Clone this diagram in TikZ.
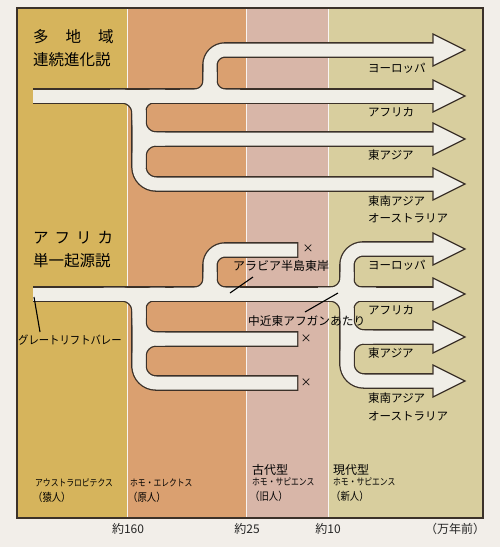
\documentclass[tikz,border=0pt]{standalone}
\usepackage{fontspec}
\usepackage{graphicx}
\setmainfont{Noto Sans CJK JP}
\definecolor{bg}{HTML}{F2EEE9}
\definecolor{colA}{HTML}{D6B45C}
\definecolor{colB}{HTML}{DAA070}
\definecolor{colC}{HTML}{D8B6A8}
\definecolor{colD}{HTML}{D8CE9E}
\definecolor{outl}{HTML}{3B3129}
\definecolor{bandw}{HTML}{F0EEE7}
\newcommand\myfs[1]{\fontsize{#1}{#1}\selectfont}
\newcommand\bandset[1]{%
 % upper diagram
 \path[#1] (33,96) -- (435,96);
 \path[#1, rounded corners=15pt] (180,96) -- (210,96) -- (210,50) -- (435,50);
 \path[#1, rounded corners=15pt] (240,96) -- (210,96) -- (210,72);
 \path[#1, rounded corners=17pt] (110,96) -- (139,96) -- (139,184) -- (435,184);
 \path[#1, rounded corners=14pt] (165,96) -- (139,96) -- (139,120);
 \path[#1, rounded corners=17pt] (139,110) -- (139,139) -- (435,139);
 \path[#1, rounded corners=17pt] (139,168) -- (139,139) -- (165,139);
 % lower diagram
 \path[#1] (33,294) -- (435,294);
 \path[#1, line cap=rect, rounded corners=15pt] (180,294) -- (210,294) -- (210,250) -- (290.5,250);
 \path[#1, rounded corners=15pt] (240,294) -- (210,294) -- (210,272);
 \path[#1, line cap=rect, rounded corners=17pt] (110,294) -- (139,294) -- (139,383) -- (290.5,383);
 \path[#1, rounded corners=14pt] (165,294) -- (139,294) -- (139,318);
 \path[#1, line cap=rect, rounded corners=17pt] (139,310) -- (139,339) -- (290.5,339);
 \path[#1, rounded corners=17pt] (139,368) -- (139,339) -- (165,339);
 \path[#1, rounded corners=16pt] (318,294) -- (347,294) -- (347,249) -- (435,249);
 \path[#1, rounded corners=14pt] (376,294) -- (347,294) -- (347,272);
 \path[#1, rounded corners=17pt] (318,294) -- (347,294) -- (347,381) -- (435,381);
 \path[#1, rounded corners=14pt] (376,294) -- (347,294) -- (347,318);
 \path[#1, rounded corners=17pt] (347,308) -- (347,337) -- (435,337);
 \path[#1, rounded corners=17pt] (347,366) -- (347,337) -- (373,337);
}
\newcommand\arrhead[1]{\filldraw[fill=bandw, draw=outl, line width=1.2pt, line join=miter] (433,#1-16) -- (465,#1) -- (433,#1+16) -- cycle;}
\begin{document}
\begin{tikzpicture}[x=1pt,y=-1pt,
  bandout/.style={draw=outl, line width=15.6pt, line cap=butt, line join=round},
  bandin/.style={draw=bandw, line width=13pt, line cap=butt, line join=round},
  lbl/.style={inner sep=0pt, anchor=west, text=black},
  big/.style={lbl, font=\myfs{15.5}},
  reg/.style={lbl, font=\myfs{11.5}},
  small/.style={lbl, font=\myfs{9.5}},
  axis/.style={inner sep=0pt, font=\myfs{12}, text=black!85},
  leader/.style={draw=black, line width=1.1pt}]
\useasboundingbox (0,0) rectangle (500,547);
\fill[bg] (0,0) rectangle (500,547);
% columns
\fill[colA] (17,8) rectangle (127,518);
\fill[colB] (127,8) rectangle (246,518);
\fill[colC] (246,8) rectangle (328,518);
\fill[colD] (328,8) rectangle (483,518);
\foreach \xx in {127,246,328} \draw[white!85!colC, line width=1pt] (\xx,8) -- (\xx,518);
\draw[outl, line width=1.5pt] (17,8) rectangle (483,518);
% bands
\bandset{bandout}
\foreach \yy in {50,96,139,184,249,294,337,381} {\arrhead{\yy}}
\bandset{bandin}
% titles
\node[big] (t1a) at (33,37) {多\hspace{17pt}地\hspace{17pt}域};
\node[big] (t1b) at (33,60) {連続進化説};
\node[big] (t2a) at (33,238) {ア\hspace{6pt}フ\hspace{6pt}リ\hspace{6pt}カ};
\node[big] (t2b) at (33,261) {単一起源説};
% right labels top
\node[reg] (u1) at (368,68) {ヨーロッパ};
\node[reg] (u2) at (368,112) {アフリカ};
\node[reg] (u3) at (368,155) {東アジア};
\node[reg] (u4) at (368,201) {東南アジア};
\node[reg] (u5) at (368,218) {オーストラリア};
% right labels bottom
\node[reg] (l1) at (368,265) {ヨーロッパ};
\node[reg] (l2) at (368,310) {アフリカ};
\node[reg] (l3) at (368,353) {東アジア};
\node[reg] (l4) at (368,398) {東南アジア};
\node[reg] (l5) at (368,416) {オーストラリア};
% crosses
\node[inner sep=0pt, font=\myfs{11}] (x1) at (308,249) {×};
\node[inner sep=0pt, font=\myfs{11}] (x2) at (306,339) {×};
\node[inner sep=0pt, font=\myfs{11}] (x3) at (306,383) {×};
% annotations
\node[lbl, font=\myfs{12}] (arab) at (233,266) {アラビア半島東岸};
\coordinate (arabA) at (230,293);
\coordinate (arabB) at (253,277);
\draw[leader] (arabA) -- (arabB);
\node[lbl, font=\myfs{11.7}] (afg) at (248,321) {中近東アフガンあたり};
\coordinate (afgA) at (305,312);
\coordinate (afgB) at (338,293);
\draw[leader] (afgA) -- (afgB);
\node[lbl, font=\myfs{11.5}] (rift) at (18,340) {\scalebox{0.9}[1]{グレートリフトバレー}};
\coordinate (riftA) at (34,297);
\coordinate (riftB) at (40,332);
\draw[leader] (riftA) -- (riftB);
% column labels
\node[small] (c1a) at (35,483) {\scalebox{0.82}[1]{アウストラロピテクス}};
\node[lbl, font=\myfs{11}] (c1b) at (33,497) {\scalebox{0.85}[1]{（猿人）}};
\node[small] (c2a) at (130,483) {\scalebox{0.82}[1]{ホモ・エレクトス}};
\node[lbl, font=\myfs{11}] (c2b) at (128,497) {\scalebox{0.85}[1]{（原人）}};
\node[lbl, font=\myfs{12}] (c3a) at (252,470) {古代型};
\node[small] (c3b) at (252,482) {\scalebox{0.82}[1]{ホモ・サピエンス}};
\node[lbl, font=\myfs{11}] (c3c) at (250,496) {\scalebox{0.85}[1]{（旧人）}};
\node[lbl, font=\myfs{12}] (c4a) at (333,470) {現代型};
\node[small] (c4b) at (333,482) {\scalebox{0.82}[1]{ホモ・サピエンス}};
\node[lbl, font=\myfs{11}] (c4c) at (331,496) {\scalebox{0.85}[1]{（新人）}};
% axis
\node[axis] (a1) at (128,529) {約160};
\node[axis] (a2) at (247,529) {約25};
\node[axis] (a3) at (328,529) {約10};
\node[axis] (a4) at (455,529) {（万年前）};
\end{tikzpicture}
\end{document}
